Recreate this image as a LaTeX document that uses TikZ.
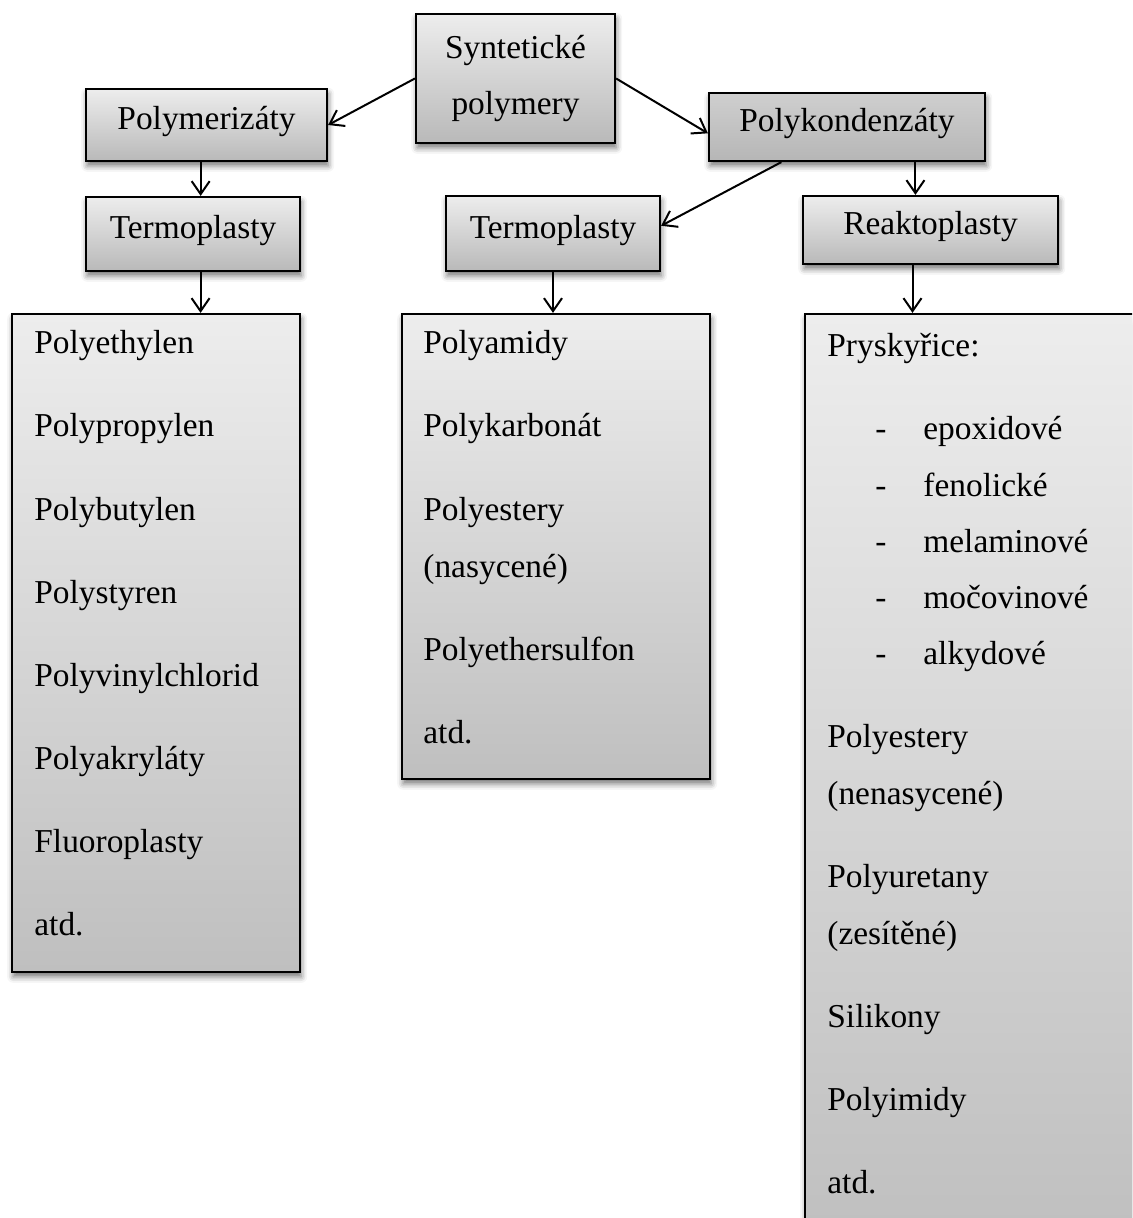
\documentclass[tikz,border=0pt]{standalone}
\usepackage{fontspec}
\setmainfont{Liberation Serif}
\usetikzlibrary{arrows.meta,shadows.blur,calc}

\definecolor{boxtop}{HTML}{EDEDED}
\definecolor{boxbottom}{HTML}{B9B9B9}
\definecolor{listbottom}{HTML}{BFBFBF}
\definecolor{darktop}{HTML}{CFCFCF}
\definecolor{darkbottom}{HTML}{B6B6B6}

\begin{document}
\begin{tikzpicture}[x=0.5pt,y=-0.5pt,
  every node/.style={font=\fontsize{16.7}{20}\selectfont},
  panel/.style={draw=black, line width=1.1pt, inner sep=0pt,
    blur shadow={shadow xshift=0.6pt, shadow yshift=-2.4pt,
      shadow blur radius=3pt, shadow opacity=55}},
  lightfill/.style={top color=boxtop, bottom color=boxbottom},
  headbox/.style={panel, lightfill, text height=9pt, text depth=4pt},
  darkbox/.style={panel, top color=darktop, bottom color=darkbottom,
    text height=9pt, text depth=4pt},
  listbox/.style={panel, top color=boxtop, bottom color=listbottom},
  item/.style={anchor=base west, inner sep=0pt},
  arr/.style={line width=1pt, -{Straight Barb[length=6.5pt,width=9pt,line width=1pt]}}]

\useasboundingbox (0,0) rectangle (1132,1218);
\clip (0,0) rectangle (1132,1218);

% header boxes
\node[panel, lightfill, minimum width=99.5pt, minimum height=64.5pt,
      align=center, font=\fontsize{16.7}{28}\selectfont]
      (syn) at (515.5,78.5) {Syntetické\\polymery};
\node[headbox, minimum width=120.5pt, minimum height=36pt] (polym) at (206.5,125) {Polymerizáty};
\node[darkbox, minimum width=138pt, minimum height=34pt] (polyk) at (847,127) {Polykondenzáty};
\node[headbox, minimum width=107pt, minimum height=37pt] (tl) at (193,234) {Termoplasty};
\node[headbox, minimum width=107pt, minimum height=37.5pt] (tm) at (553,233.5) {Termoplasty};
\node[headbox, minimum width=127.5pt, minimum height=34pt] (rk) at (930.5,230) {Reaktoplasty};

% list boxes
\node[listbox, minimum width=144pt, minimum height=329pt] (ll) at (156,643) {};
\node[listbox, minimum width=154pt, minimum height=232.5pt] (ml) at (556,546.5) {};
\node[listbox, minimum width=172.5pt, minimum height=465.5pt] (rl) at (977.5,779.5) {};

% left list
\node[item] (l1) at (34,354) {Polyethylen};
\node[item] (l2) at (34,437) {Polypropylen};
\node[item] (l3) at (34,520) {Polybutylen};
\node[item] (l4) at (34,603) {Polystyren};
\node[item] (l5) at (34,686) {Polyvinylchlorid};
\node[item] (l6) at (34,769) {Polyakryláty};
\node[item] (l7) at (34,852) {Fluoroplasty};
\node[item] (l8) at (34,935) {atd.};

% middle list
\node[item] (m1) at (423,354) {Polyamidy};
\node[item] (m2) at (423,437) {Polykarbonát};
\node[item] (m3) at (423,520) {Polyestery};
\node[item] (m4) at (423,577) {(nasycené)};
\node[item] (m5) at (423,660) {Polyethersulfon};
\node[item] (m6) at (423,743) {atd.};

% right list
\node[item] (r1) at (827,357) {Pryskyřice:};
\foreach \y/\w [count=\i] in {440/epoxidové, 496/fenolické, 552/melaminové,
                             608/močovinové, 664/alkydové} {
  \node[item] (rd\i) at (875,\y) {-};
  \node[item] (rw\i) at (923,\y) {\w};
}
\node[item] (r2) at (827,747) {Polyestery};
\node[item] (r3) at (827,804) {(nenasycené)};
\node[item] (r4) at (827,887) {Polyuretany};
\node[item] (r5) at (827,944) {(zesítěné)};
\node[item] (r6) at (827,1027) {Silikony};
\node[item] (r7) at (827,1110) {Polyimidy};
\node[item] (r8) at (827,1193) {atd.};

% connector end points
\coordinate (pkin) at ($(polyk.north west)!0.59!(polyk.south west)$);
\coordinate (pmout) at ($(polym.south west)!0.476!(polym.south east)$);
\coordinate (pkout1) at ($(polyk.south west)!0.264!(polyk.south east)$);
\coordinate (pkout2) at ($(polyk.south west)!0.746!(polyk.south east)$);
\coordinate (tmin) at ($(tm.north east)!0.4!(tm.south east)$);
\coordinate (tlout) at ($(tl.south west)!0.535!(tl.south east)$);
\coordinate (rkout) at ($(rk.south west)!0.43!(rk.south east)$);

% connectors
\draw[arr] (syn.west) -- (polym.east);
\draw[arr] (syn.east) -- (pkin);
\draw[arr] (pmout) -- (pmout |- tl.north);
\draw[arr] (pkout1) -- (tmin);
\draw[arr] (pkout2) -- (pkout2 |- rk.north);
\draw[arr] (tlout) -- (tlout |- ll.north);
\draw[arr] (tm.south) -- (tm.south |- ml.north);
\draw[arr] (rkout) -- (rkout |- rl.north);
\end{tikzpicture}
\end{document}
